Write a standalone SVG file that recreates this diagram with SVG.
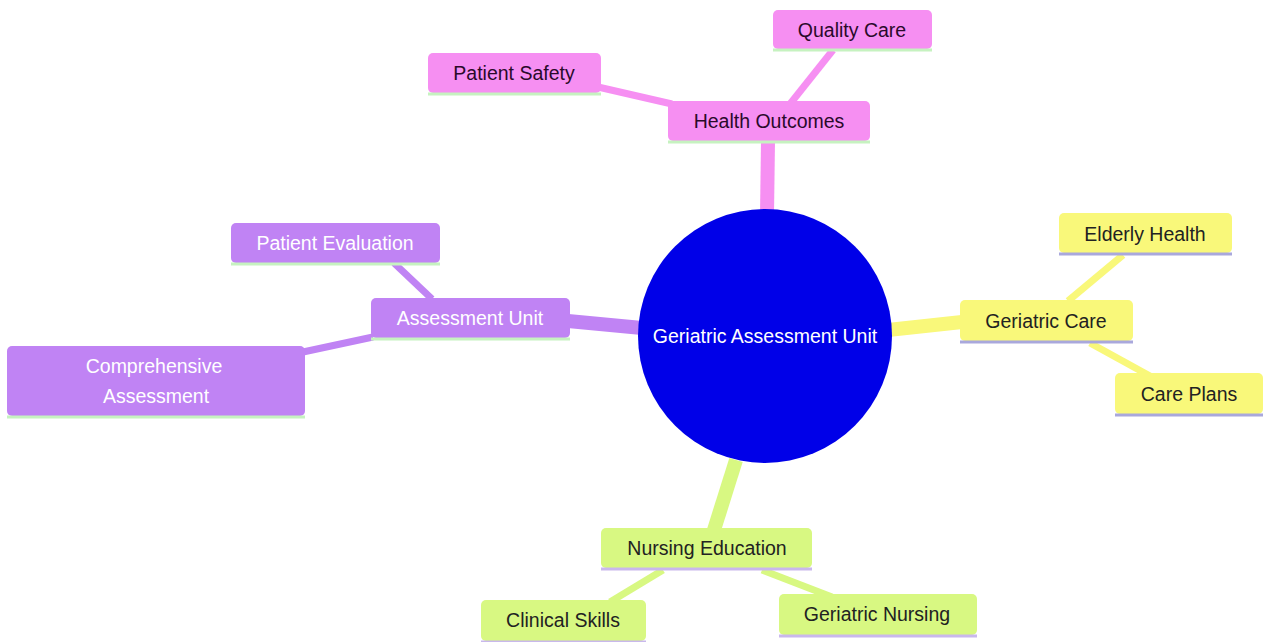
<svg xmlns="http://www.w3.org/2000/svg" width="1263" height="642" viewBox="0 0 1263 642">
<style>
text{font-family:"Liberation Sans",Arial,sans-serif;font-size:19.5px;text-anchor:middle;dominant-baseline:central}
.pink rect{fill:#f68ff2}
.pink line{stroke:#c6f2c0}
.pink text{fill:#2a0a2a}
.purple rect{fill:#c083f4}
.purple line{stroke:#c6f2c0}
.purple text{fill:#ffffff}
.yellow rect{fill:#f9f87a}
.yellow line{stroke:#a9a8dc}
.yellow text{fill:#222222}
.green rect{fill:#d8f882}
.green line{stroke:#c9b8ec}
.green text{fill:#222222}
.node line{stroke-width:3}
.e{fill:none;stroke-linecap:butt}
.ep{stroke:#f68ff2}.eu{stroke:#c083f4}.ey{stroke:#f9f87a}.eg{stroke:#d8f882}
.r{stroke-width:14}.c{stroke-width:7}
</style>
<g id="connectors">
<line class="e ep r" x1="768" y1="141" x2="767" y2="215"/>
<line class="e ep c" x1="672" y1="104" x2="598" y2="87"/>
<line class="e ep c" x1="790" y1="104" x2="833" y2="50"/>
<line class="e eu r" x1="568" y1="321" x2="642" y2="328"/>
<line class="e eu c" x1="432" y1="299" x2="394" y2="263"/>
<line class="e eu c" x1="373" y1="337" x2="303" y2="352"/>
<line class="e ey r" x1="888" y1="330" x2="962" y2="322"/>
<line class="e ey c" x1="1068" y1="301" x2="1123" y2="255"/>
<line class="e ey c" x1="1090" y1="343" x2="1150" y2="376"/>
<line class="e eg r" x1="736" y1="460" x2="714" y2="530"/>
<line class="e eg c" x1="663" y1="570" x2="610" y2="602"/>
<line class="e eg c" x1="762" y1="570" x2="832" y2="597"/>
</g>
<g id="root">
<circle cx="765" cy="336" r="127" fill="#0000e8"/>
<text x="765" y="336" fill="#ffffff">Geriatric Assessment Unit</text>
</g>
<g id="health-outcomes" class="node pink">
<rect x="668" y="101" width="202" height="40" rx="5"/>
<line x1="668" y1="142" x2="870" y2="142"/>
<text x="769" y="121">Health Outcomes</text>
</g>
<g id="patient-safety" class="node pink">
<rect x="428" y="53" width="173" height="40" rx="5"/>
<line x1="428" y1="94" x2="601" y2="94"/>
<text x="514" y="73">Patient Safety</text>
</g>
<g id="quality-care" class="node pink">
<rect x="773" y="10" width="159" height="39" rx="5"/>
<line x1="773" y1="50" x2="932" y2="50"/>
<text x="852" y="30">Quality Care</text>
</g>
<g id="assessment-unit" class="node purple">
<rect x="371" y="298" width="199" height="40" rx="5"/>
<line x1="371" y1="339" x2="570" y2="339"/>
<text x="470" y="318">Assessment Unit</text>
</g>
<g id="patient-evaluation" class="node purple">
<rect x="231" y="223" width="209" height="40" rx="5"/>
<line x1="231" y1="264" x2="440" y2="264"/>
<text x="335" y="243">Patient Evaluation</text>
</g>
<g id="comprehensive-assessment" class="node purple">
<rect x="7" y="346" width="298" height="70" rx="5"/>
<line x1="7" y1="417" x2="305" y2="417"/>
<text x="154" y="366">Comprehensive</text>
<text x="156" y="396">Assessment</text>
</g>
<g id="geriatric-care" class="node yellow">
<rect x="960" y="300" width="173" height="41" rx="5"/>
<line x1="960" y1="342" x2="1133" y2="342"/>
<text x="1046" y="321">Geriatric Care</text>
</g>
<g id="elderly-health" class="node yellow">
<rect x="1059" y="213" width="173" height="40" rx="5"/>
<line x1="1059" y1="254" x2="1232" y2="254"/>
<text x="1145" y="234">Elderly Health</text>
</g>
<g id="care-plans" class="node yellow">
<rect x="1115" y="373" width="148" height="41" rx="5"/>
<line x1="1115" y1="415" x2="1263" y2="415"/>
<text x="1189" y="394">Care Plans</text>
</g>
<g id="nursing-education" class="node green">
<rect x="601" y="528" width="211" height="40" rx="5"/>
<line x1="601" y1="569" x2="812" y2="569"/>
<text x="707" y="548">Nursing Education</text>
</g>
<g id="clinical-skills" class="node green">
<rect x="481" y="600" width="165" height="41" rx="5"/>
<line x1="481" y1="642" x2="646" y2="642"/>
<text x="563" y="620">Clinical Skills</text>
</g>
<g id="geriatric-nursing" class="node green">
<rect x="779" y="594" width="198" height="41" rx="5"/>
<line x1="779" y1="636" x2="977" y2="636"/>
<text x="877" y="614">Geriatric Nursing</text>
</g>
</svg>
